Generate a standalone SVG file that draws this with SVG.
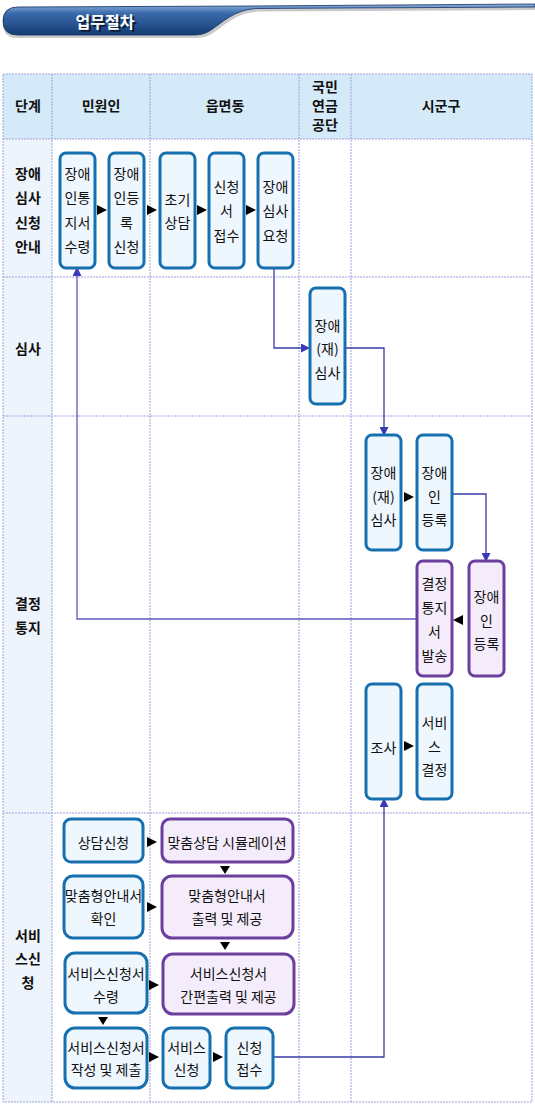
<svg xmlns="http://www.w3.org/2000/svg" width="535" height="1104" viewBox="0 0 535 1104">
<defs>
<linearGradient id="ban" x1="0" y1="0" x2="0" y2="1">
<stop offset="0" stop-color="#8fb2de"/>
<stop offset="0.3" stop-color="#3a6aab"/>
<stop offset="1" stop-color="#143c74"/>
</linearGradient>
<marker id="ah" markerWidth="9" markerHeight="9" refX="8" refY="4.5" orient="auto" markerUnits="userSpaceOnUse">
<path d="M0,0 L9,4.5 L0,9 Z" fill="#3a3ab8"/>
</marker>
<polygon id="tr" points="0,-5 10,0 0,5" fill="#000"/>
<polygon id="tl" points="10,-5 0,0 10,5" fill="#000"/>
<polygon id="td" points="-5,0 5,0 0,8" fill="#000"/>
</defs>
<style>
.grid{fill:none;stroke:#a0a0dd;stroke-width:1;stroke-dasharray:2,1}
.nb{fill:#eef6fe;stroke:#1670b0;stroke-width:3}
.np{fill:#f4ecfa;stroke:#6b3f9e;stroke-width:3}
text{font-family:"Malgun Gothic","Noto Sans CJK KR",sans-serif;font-size:14px;fill:#111;text-anchor:middle;dominant-baseline:central}
.hd{font-weight:bold;font-size:14px}
.st{font-weight:bold;font-size:14px}
.con{fill:none;stroke:#3a3aaa;stroke-width:1.3}
</style>

<g id="title">
<path d="M18,10 L250,9 L535,7 L535,10 L258,11.5 C236,13 225,25 213,33 C207,37 202,38 194,38 L18,38 Q3,38 3,24 Q3,10 18,10 Z" fill="#888" opacity="0.45"/>
<path d="M18,7 L250,6 L535,4 L535,7 L256,8.5 C234,10 223,22 211,30 C205,34 200,35 192,35 L18,35 Q3,35 3,21 Q3,7 18,7 Z" fill="url(#ban)" stroke="#0f2f5e" stroke-width="0.8"/>
<text x="106" y="22" style="font-weight:bold;font-size:16px;fill:#0d1f3a" dx="1.2" dy="1.2">업무절차</text>
<text x="105" y="21" style="font-weight:bold;font-size:16px;fill:#fff">업무절차</text>
</g>

<g id="table">
<rect x="3" y="74" width="529" height="65" fill="#d5eaf8"/>
<rect x="3" y="139" width="49" height="963" fill="#eef4fb"/>
<rect x="3" y="74" width="529" height="1028" class="grid"/>
<path class="grid" d="M52,74 V1102 M150,74 V1102 M299,74 V1102 M351,74 V1102 M3,139 H532 M3,277 H532 M3,416 H532 M3,813 H532"/>
<text class="hd" x="28" y="105">단계</text>
<text class="hd" x="101" y="105">민원인</text>
<text class="hd" x="225" y="105">읍면동</text>
<text class="hd" x="325" y="86">국민</text>
<text class="hd" x="325" y="105">연금</text>
<text class="hd" x="325" y="124">공단</text>
<text class="hd" x="441" y="105">시군구</text>
<text class="st" x="28" y="173">장애</text>
<text class="st" x="28" y="197">심사</text>
<text class="st" x="28" y="222">신청</text>
<text class="st" x="28" y="246">안내</text>
<text class="st" x="28" y="348">심사</text>
<text class="st" x="28" y="603">결정</text>
<text class="st" x="28" y="627">통지</text>
<text class="st" x="28" y="935">서비</text>
<text class="st" x="28" y="958">스신</text>
<text class="st" x="28" y="982">청</text>
</g>

<g id="connectors">
<path class="con" d="M274,268 V348 H309" marker-end="url(#ah)"/>
<path class="con" d="M346,348 H384 V435" marker-end="url(#ah)"/>
<path class="con" d="M452,494 H486 V561" marker-end="url(#ah)"/>
<path class="con" d="M417,619 H77 V268" marker-end="url(#ah)" style="stroke:#5a5abf"/>
<path class="con" d="M273,1057 H384 V799" marker-end="url(#ah)"/>
<use href="#tr" x="97" y="210"/>
<use href="#tr" x="147" y="210"/>
<use href="#tr" x="197" y="210"/>
<use href="#tr" x="246" y="210"/>
<use href="#tr" x="404" y="497"/>
<use href="#tr" x="404" y="746"/>
<use href="#tl" x="453" y="620"/>
<use href="#tr" x="147" y="842"/>
<use href="#tr" x="147" y="907"/>
<use href="#tr" x="149" y="985"/>
<use href="#tr" x="149" y="1057"/>
<use href="#tr" x="213" y="1057"/>
<use href="#td" x="225" y="866"/>
<use href="#td" x="225" y="942"/>
<use href="#td" x="103" y="1017"/>
</g>

<g id="n1"><rect class="nb" x="60" y="153" width="35" height="115" rx="6"/>
<text x="77.5" y="173">장애</text><text x="77.5" y="197">인통</text><text x="77.5" y="222">지서</text><text x="77.5" y="246">수령</text></g>
<g id="n2"><rect class="nb" x="109" y="153" width="35" height="115" rx="6"/>
<text x="126.5" y="173">장애</text><text x="126.5" y="197">인등</text><text x="126.5" y="222">록</text><text x="126.5" y="246">신청</text></g>
<g id="n3"><rect class="nb" x="160" y="153" width="35" height="115" rx="6"/>
<text x="177.5" y="199">초기</text><text x="177.5" y="222">상담</text></g>
<g id="n4"><rect class="nb" x="209" y="153" width="35" height="115" rx="6"/>
<text x="226.5" y="186">신청</text><text x="226.5" y="210">서</text><text x="226.5" y="235">접수</text></g>
<g id="n5"><rect class="nb" x="258" y="153" width="35" height="115" rx="6"/>
<text x="275.5" y="186">장애</text><text x="275.5" y="210">심사</text><text x="275.5" y="235">요청</text></g>

<g id="n6"><rect class="nb" x="310" y="288" width="35" height="116" rx="6"/>
<text x="327.5" y="325">장애</text><text x="327.5" y="348">(재)</text><text x="327.5" y="372">심사</text></g>

<g id="n7"><rect class="nb" x="366" y="435" width="35" height="115" rx="6"/>
<text x="383.5" y="472">장애</text><text x="383.5" y="496">(재)</text><text x="383.5" y="519">심사</text></g>
<g id="n8"><rect class="nb" x="417" y="435" width="35" height="115" rx="6"/>
<text x="434.5" y="472">장애</text><text x="434.5" y="496">인</text><text x="434.5" y="519">등록</text></g>
<g id="n9"><rect class="np" x="469" y="561" width="35" height="115" rx="6"/>
<text x="486.5" y="596">장애</text><text x="486.5" y="620">인</text><text x="486.5" y="643">등록</text></g>
<g id="n10"><rect class="np" x="417" y="561" width="35" height="115" rx="6"/>
<text x="434.5" y="583">결정</text><text x="434.5" y="607">통지</text><text x="434.5" y="631">서</text><text x="434.5" y="655">발송</text></g>
<g id="n11"><rect class="nb" x="366" y="684" width="35" height="115" rx="6"/>
<text x="383.5" y="747">조사</text></g>
<g id="n12"><rect class="nb" x="417" y="684" width="35" height="115" rx="6"/>
<text x="434.5" y="722">서비</text><text x="434.5" y="746">스</text><text x="434.5" y="769">결정</text></g>

<g id="n13"><rect class="nb" x="64" y="819" width="79" height="43" rx="7"/>
<text x="103.5" y="842">상담신청</text></g>
<g id="n14"><rect class="np" x="162" y="819" width="131" height="43" rx="8"/>
<text x="227" y="842">맞춤상담 시뮬레이션</text></g>
<g id="n15"><rect class="nb" x="64" y="876" width="79" height="62" rx="9"/>
<text x="103.5" y="895">맞춤형안내서</text><text x="103.5" y="918">확인</text></g>
<g id="n16"><rect class="np" x="162" y="876" width="131" height="62" rx="10"/>
<text x="227" y="895">맞춤형안내서</text><text x="227" y="918">출력 및 제공</text></g>
<g id="n17"><rect class="nb" x="65" y="953" width="82" height="60" rx="10"/>
<text x="106" y="973">서비스신청서</text><text x="106" y="996">수령</text></g>
<g id="n18"><rect class="np" x="163" y="954" width="131" height="60" rx="10"/>
<text x="228.5" y="973">서비스신청서</text><text x="228.5" y="996">간편출력 및 제공</text></g>
<g id="n19"><rect class="nb" x="65" y="1028" width="82" height="60" rx="10"/>
<text x="106" y="1047">서비스신청서</text><text x="106" y="1069">작성 및 제출</text></g>
<g id="n20"><rect class="nb" x="163" y="1028" width="47" height="60" rx="8"/>
<text x="186.5" y="1047">서비스</text><text x="186.5" y="1069">신청</text></g>
<g id="n21"><rect class="nb" x="226" y="1028" width="47" height="60" rx="8"/>
<text x="249.5" y="1047">신청</text><text x="249.5" y="1069">접수</text></g>
</svg>
